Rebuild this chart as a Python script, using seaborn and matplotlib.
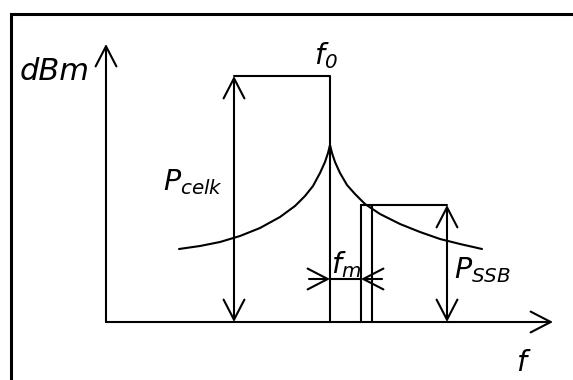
"""
Phase noise sketch: carrier f0 with noise skirt, total power and SSB power.
"""

import matplotlib
matplotlib.use("Agg")
import matplotlib.pyplot as plt
import seaborn as sns
import pandas as pd

# ──────────────────────────────────────────────
# Data (units: px from the axis origin)
# ──────────────────────────────────────────────
left_f = [73, 94, 114, 134, 154, 174, 189, 199, 207, 214, 219, 222, 224]
left_db = [73, 76, 80, 86, 94, 105, 116, 126, 136, 149, 160, 169, 177]
right_f = [224, 226, 229, 234, 241, 249, 259, 274, 294, 314, 334, 354, 376]
right_db = [177, 169, 160, 149, 137, 128, 118, 108, 98, 90, 83, 78, 73]

f0 = 224            # carrier position
p_celk = 246        # total carrier power level
p_celk_x = 128      # where the P_celk dimension sits
f_ssb = [255, 266]  # SSB measurement band edges
p_ssb = 117         # SSB level
p_ssb_x = 341       # where the P_SSB dimension sits
fm_y = 43           # height of the f_m dimension

x_end = 447
y_end = 278

LW = 1.5
INK = "black"


def arrow(ax, start, end, style="->"):
    ax.annotate("", xy=end, xytext=start,
                arrowprops=dict(arrowstyle=f"{style},head_length=1.45,head_width=0.75",
                                mutation_scale=10, lw=LW, color=INK,
                                shrinkA=0, shrinkB=0))


def main():
    sns.set_style("white")
    plt.rcParams.update({
        "text.color": INK,
        "mathtext.fontset": "custom",
        "mathtext.rm": "DejaVu Sans:italic",
        "mathtext.it": "DejaVu Sans:italic",
    })
    fig = plt.figure(figsize=(5.73, 3.80), dpi=100)
    ax = fig.add_axes([0, 0, 1, 1])
    ax.set_xlim(-106, 467)
    ax.set_ylim(-58, 322)
    ax.axis("off")

    # outer frame (top and left edges only)
    ax.plot([-95, -95, 467], [-58, 308, 308], color=INK, lw=2.2, solid_joinstyle="miter")

    # axes
    arrow(ax, (0, 0), (x_end, 0))
    arrow(ax, (0, 0), (0, y_end))

    # noise skirt
    skirt = pd.DataFrame({
        "f": left_f + right_f,
        "db": left_db + right_db,
        "side": ["l"] * len(left_f) + ["r"] * len(right_f),
    })
    sns.lineplot(data=skirt, x="f", y="db", units="side", estimator=None,
                 sort=False, color=INK, lw=LW, ax=ax, legend=False)

    # carrier line and P_celk box
    ax.plot([f0, f0, p_celk_x], [0, p_celk, p_celk], color=INK, lw=LW)
    arrow(ax, (p_celk_x, 0), (p_celk_x, p_celk), "<->")

    # SSB band and P_SSB
    for fx in f_ssb:
        ax.plot([fx, fx], [0, p_ssb], color=INK, lw=LW)
    ax.plot([f_ssb[0], p_ssb_x], [p_ssb, p_ssb], color=INK, lw=LW)
    arrow(ax, (p_ssb_x, 0), (p_ssb_x, p_ssb), "<->")

    # f_m dimension
    ax.plot([f0, f_ssb[0]], [fm_y, fm_y], color=INK, lw=LW)
    arrow(ax, (f0 - 21, fm_y), (f0, fm_y))
    arrow(ax, (f_ssb[0] + 21, fm_y), (f_ssb[0], fm_y))

    # labels
    fs = 20.5
    ax.text(-51, 251, "dBm", style="italic", fontsize=22, ha="center", va="center")
    ax.text(220, 266, r"$f_0$", fontsize=fs, ha="center", va="center")
    ax.text(117, 140, r"$P_{celk}$", fontsize=fs, ha="right", va="center")
    ax.text(240, 57, r"$f_m$", fontsize=fs, ha="center", va="center")
    ax.text(348, 52, r"$P_{SSB}$", fontsize=fs, ha="left", va="center")
    ax.text(418, -41, r"$f$", fontsize=fs, ha="center", va="center")

    fig.savefig("out.png", dpi=100)
    plt.close(fig)


if __name__ == "__main__":
    main()
